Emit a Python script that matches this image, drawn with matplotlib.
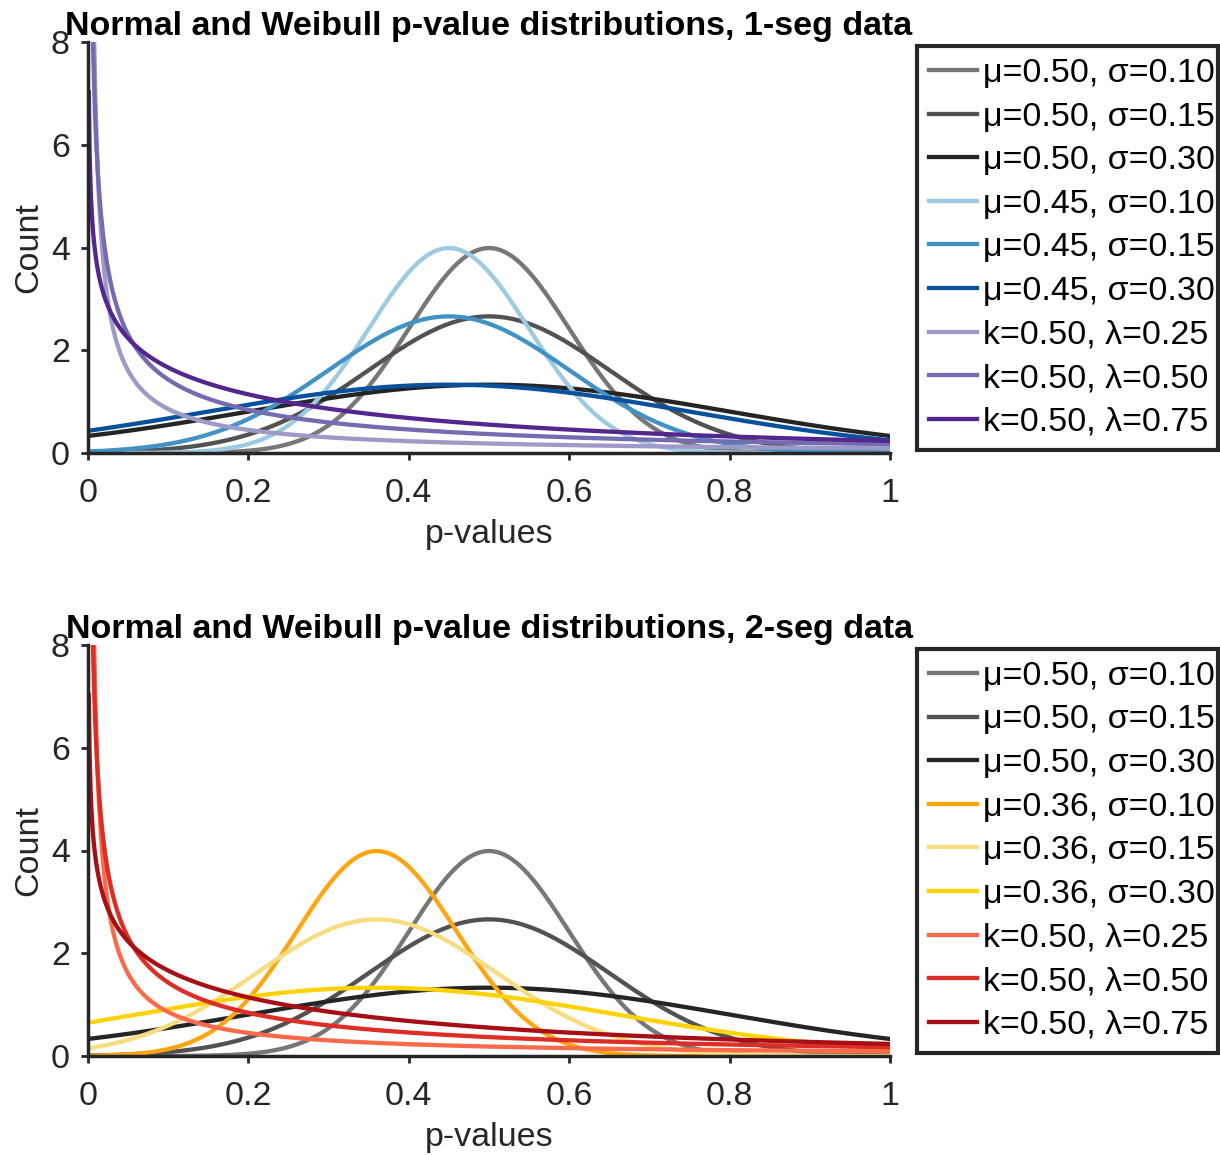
import numpy as np
import matplotlib
matplotlib.use("Agg")
import matplotlib.pyplot as plt

plt.rcParams['font.family'] = ['Liberation Sans', 'DejaVu Sans']

# ---- data (parameters read from the legends) ----
titles = ["Normal and Weibull p-value distributions, 1-seg data",
          "Normal and Weibull p-value distributions, 2-seg data"]
normal_mu_top = [0.50, 0.50, 0.50, 0.45, 0.45, 0.45]
normal_mu_bot = [0.50, 0.50, 0.50, 0.36, 0.36, 0.36]
normal_sigma = [0.10, 0.15, 0.30, 0.10, 0.15, 0.30]
weib_k = [0.50, 0.50, 0.50]
weib_lam = [0.25, 0.50, 0.75]
xticks = [0, 0.2, 0.4, 0.6, 0.8, 1]
xticklabels = ["0", "0.2", "0.4", "0.6", "0.8", "1"]
yticks = [0, 2, 4, 6, 8]

colors_top = ["#777777", "#525252", "#252525",
              "#9ecae1", "#4292c6", "#08519c",
              "#9e9ac8", "#756bb1", "#54278f"]
colors_bot = ["#777777", "#525252", "#252525",
              "#ffa50f", "#f8dc80", "#ffd200",
              "#fb6a4a", "#de2d26", "#a50f15"]

x = np.linspace(0, 1, 1001)


def normal_pdf(x, mu, s):
    return np.exp(-0.5 * ((x - mu) / s) ** 2) / (s * np.sqrt(2 * np.pi))


def weibull_pdf(x, a, b):
    # wblpdf(x, a, b): a = scale, b = shape (as used for the legend labels)
    with np.errstate(divide='ignore', invalid='ignore'):
        y = (b / a) * (x / a) ** (b - 1) * np.exp(-(x / a) ** b)
    y[~np.isfinite(y)] = np.nan
    return y


fig = plt.figure(figsize=(12.2, 11.55), dpi=100)
axes_rects = [[88 / 1220, 1 - 453 / 1155, 802 / 1220, 411 / 1155],
              [88 / 1220, 1 - 1056 / 1155, 802 / 1220, 411 / 1155]]
leg_rects = [(917 / 1220, 1 - 447 / 1155, 301 / 1220, 401 / 1155),
             (917 / 1220, 1 - 1050 / 1155, 301 / 1220, 401 / 1155)]
spine_c = "#262626"
FS = 24.5

for i, (mus, cols) in enumerate([(normal_mu_top, colors_top), (normal_mu_bot, colors_bot)]):
    ax = fig.add_axes(axes_rects[i])
    ci = 0
    for mu, s in zip(mus, normal_sigma):
        ax.plot(x, normal_pdf(x, mu, s), color=cols[ci], lw=3.1,
                label="μ=%.2f, σ=%.2f" % (mu, s))
        ci += 1
    for k, lam in zip(weib_k, weib_lam):
        ax.plot(x, weibull_pdf(x, k, lam), color=cols[ci], lw=3.1,
                label="k=%.2f, λ=%.2f" % (k, lam))
        ci += 1
    ax.set_xlim(0, 1)
    ax.set_ylim(0, 8)
    ax.set_xticks(xticks)
    ax.set_xticklabels(xticklabels)
    ax.set_yticks(yticks)
    for sp in ["top", "right"]:
        ax.spines[sp].set_visible(False)
    for sp in ["left", "bottom"]:
        ax.spines[sp].set_linewidth(2.5)
        ax.spines[sp].set_color(spine_c)
    ax.tick_params(direction="out", length=5, width=2, colors=spine_c,
                   labelsize=FS, labelcolor="#262626")
    ax.tick_params(axis="x", pad=13)
    ax.tick_params(axis="y", pad=8)
    ax.set_xlabel("p-values", fontsize=FS, color="#262626", labelpad=7)
    ax.set_ylabel("Count", fontsize=FS, color="#262626", labelpad=5)
    ax.set_title(titles[i], fontsize=24.5, fontweight="bold", pad=5)
    leg = ax.legend(loc="upper left", bbox_to_anchor=leg_rects[i],
                    bbox_transform=fig.transFigure, mode="expand",
                    fontsize=FS, frameon=True, fancybox=False, framealpha=1,
                    handlelength=1.4, handletextpad=0.18, labelspacing=0.37,
                    borderaxespad=0, borderpad=0.35)
    leg.get_frame().set_edgecolor(spine_c)
    leg.get_frame().set_linewidth(3)

fig.savefig("out.png", dpi=100)
